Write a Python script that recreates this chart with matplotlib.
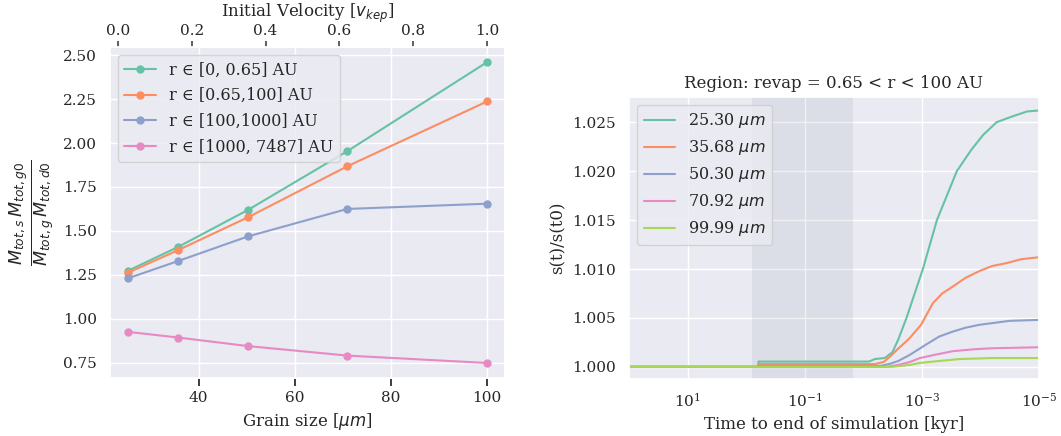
import numpy as np
import matplotlib
matplotlib.use('Agg')
import matplotlib.pyplot as plt
import seaborn as sns

sns.set_theme(style='darkgrid', font='DejaVu Serif')
plt.rcParams['font.family'] = ['DejaVu Serif']

# left panel data
grain = [25.30, 35.68, 50.30, 70.92, 99.99]
velocity = [0.027, 0.162, 0.353, 0.622, 1.0]
region_labels = ['r ∈ [0, 0.65] AU', 'r ∈ [0.65,100] AU',
                 'r ∈ [100,1000] AU', 'r ∈ [1000, 7487] AU']
ratio_0 = [1.273, 1.408, 1.620, 1.954, 2.461]
ratio_1 = [1.262, 1.390, 1.578, 1.868, 2.237]
ratio_2 = [1.230, 1.328, 1.469, 1.625, 1.655]
ratio_3 = [0.925, 0.893, 0.844, 0.790, 0.748]

# right panel data: log10(time to end [kyr]) and s(t)/s(t0)
size_labels = ['25.30 $\\mu m$', '35.68 $\\mu m$', '50.30 $\\mu m$', '70.92 $\\mu m$', '99.99 $\\mu m$']
logt_a = [2, -0.21, -0.21, -2.1, -2.2, -2.37, -2.5, -2.6, -2.74, -2.88, -3.02, -3.26, -3.43, -3.6, -3.85, -4.05, -4.28, -4.55, -4.8, -5]
s_a = [1.0, 1.0, 1.00054, 1.00054, 1.0008, 1.0009, 1.0015, 1.0028, 1.005, 1.0075, 1.010, 1.015, 1.0175, 1.020, 1.0222, 1.0237, 1.025, 1.0256, 1.0261, 1.0262]
logt_b = [2, -0.21, -0.21, -2.2, -2.35, -2.45, -2.57, -2.79, -2.99, -3.19, -3.35, -3.53, -3.75, -3.99, -4.2, -4.45, -4.7, -5]
s_b = [1.0, 1.0, 1.00028, 1.00028, 1.0005, 1.001, 1.0017, 1.0029, 1.0043, 1.0065, 1.0075, 1.0082, 1.0091, 1.0098, 1.0103, 1.0106, 1.011, 1.0112]
logt_c = [2, -0.21, -0.21, -2.3, -2.45, -2.6, -2.79, -3.08, -3.3, -3.53, -3.75, -3.99, -4.5, -5]
s_c = [1.0, 1.0, 1.0001, 1.0001, 1.0003, 1.0006, 1.0012, 1.0023, 1.0031, 1.0036, 1.004, 1.0043, 1.0047, 1.0048]
logt_d = [2, -2.4, -2.6, -2.8, -2.97, -3.2, -3.53, -3.9, -4.2, -5]
s_d = [1.0, 1.0, 1.0002, 1.0005, 1.0009, 1.0012, 1.0016, 1.0018, 1.0019, 1.002]
logt_e = [2, -2.5, -2.8, -2.97, -3.3, -3.65, -4.2, -5]
s_e = [1.0, 1.0, 1.0002, 1.0004, 1.0006, 1.0008, 1.0009, 1.0009]
shade = [0.8, 0.015]

colors = sns.color_palette('Set2')

fig = plt.figure(figsize=(10.61, 4.36), dpi=100)
ax1 = fig.add_axes([0.1037, 0.133, 0.3723, 0.759])
ax2 = fig.add_axes([0.593, 0.131, 0.386, 0.647])

# left panel
for i, r in enumerate([ratio_0, ratio_1, ratio_2, ratio_3]):
    ax1.plot(grain, r, marker='o', markersize=5, color=colors[i], label=region_labels[i])
ax1.set_xlabel('Grain size [$\\mu m$]', fontsize=12)
ax1.set_ylabel('$\\frac{M_{tot,s}\\,M_{tot,g0}}{M_{tot,g}\\,M_{tot,d0}}$', fontsize=18)
ax1.set_yticks([0.75, 1.0, 1.25, 1.5, 1.75, 2.0, 2.25, 2.5])
ax1.legend(loc='upper left', fontsize=11.5, labelspacing=0.55)

top = ax1.twiny()
top.grid(False)
k, b = np.polyfit(grain, velocity, 1)
lo, hi = ax1.get_xlim()
top.set_xlim(k * lo + b, k * hi + b)
top.set_xlabel('Initial Velocity [$v_{kep}$]', fontsize=12, labelpad=5)
top.xaxis.set_tick_params(which='major', top=True, labeltop=True, bottom=False,
                          labelbottom=False, direction='out', size=4, width=1.1,
                          color='#333333', pad=2.5)

# right panel
curves = [(logt_a, s_a), (logt_b, s_b), (logt_c, s_c), (logt_d, s_d), (logt_e, s_e)]
for i, (lt, s) in enumerate(curves):
    ax2.plot(10.0 ** np.array(lt), s, color=colors[i], lw=1.5, label=size_labels[i])
ax2.axvspan(shade[0], shade[1], color='lightslategray', alpha=0.12, lw=0)
ax2.set_xscale('log')
ax2.set_xlim(1e2, 1e-5)
ax2.set_ylim(0.99877, 1.0276)
ax2.set_xticks([1e1, 1e-1, 1e-3, 1e-5])
ax2.minorticks_off()
ax2.set_yticks([1.0, 1.005, 1.01, 1.015, 1.02, 1.025])
ax2.set_xlabel('Time to end of simulation [kyr]', fontsize=12)
ax2.set_ylabel('s(t)/s(t0)', fontsize=12)
ax2.set_title('Region: revap = 0.65 < r < 100 AU', fontsize=12)
ax2.legend(loc='upper left', fontsize=11.5)

fig.savefig('out.png', dpi=100)
